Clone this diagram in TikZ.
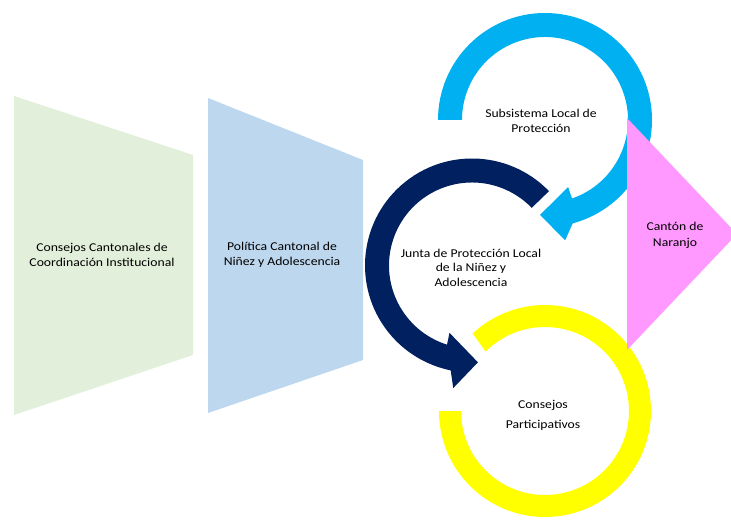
\documentclass[tikz,border=0pt]{standalone}
\usepackage{fontspec}
\setmainfont{Carlito}[FakeStretch=1.14]
\usetikzlibrary{calc}
\definecolor{greenbox}{HTML}{E2EFDA}
\definecolor{bluebox}{HTML}{BDD7EE}
\definecolor{cyanring}{HTML}{00B0F0}
\definecolor{navyring}{HTML}{002060}
\definecolor{yellowring}{HTML}{FFFF00}
\definecolor{pinktri}{HTML}{FF99FF}
\tikzset{
  lbl/.style={align=center, inner sep=0pt, text=black, font=\fontsize{12}{14.5}\selectfont},
}
\begin{document}
\begin{tikzpicture}[x=1pt,y=1pt]
\useasboundingbox (0,0) rectangle (731,520);
\clip (0,0) rectangle (731,520);
% trapezoids
\fill[greenbox] (14,424) -- (193,365) -- (193,165) -- (14,105) -- cycle;
\fill[bluebox] (208,422) -- (363,360) -- (363,160) -- (208,107) -- cycle;
% ring centres
\coordinate (C1) at (545,400);
\coordinate (C2) at (472,254.5);
\coordinate (C3) at (545,109);
% yellow ring
\fill[yellowring] ($(C3)+(-180:106)$) arc[start angle=-180, end angle=133, radius=106pt]
  -- ($(C3)+(135:84)$) arc[start angle=135, end angle=-180, radius=84pt] -- cycle;
% navy ring arrow
\fill[navyring] ($(C2)+(44:107)$) arc[start angle=44, end angle=258.5, radius=107pt]
  -- ($(C2)+(261.3:124)$) -- ($(C2)+(273.5:97)$) -- ($(C2)+(251.5:71)$)
  -- ($(C2)+(252.5:83)$) arc[start angle=252.5, end angle=44, radius=83pt] -- cycle;
% cyan ring arrow
\fill[cyanring] ($(C1)+(180:107)$) arc[start angle=180, end angle=-75, radius=107pt]
  -- ($(C1)+(-80.5:122)$) -- ($(C1)+(-93:95)$) -- ($(C1)+(-71:71)$)
  -- ($(C1)+(-71:83)$) arc[start angle=-71, end angle=180, radius=83pt] -- cycle;
% pink triangle
\fill[pinktri] (627,402) -- (737,286) -- (627,170) -- cycle;
% labels
\node[lbl] (consejoscant) at (102,265) {Consejos Cantonales de\\Coordinación Institucional};
\node[lbl] (politica) at (282,265) {Política Cantonal de\\Niñez y Adolescencia};
\node[lbl, font=\fontsize{12}{15}\selectfont] (subsistema) at (541,399.5) {Subsistema Local de\\Protección};
\node[lbl] (junta) at (471,252.5) {Junta de Protección Local\\de la Niñez y\\Adolescencia};
\node[lbl, font=\fontsize{12}{20}\selectfont] (participativos) at (543,105) {Consejos\\Participativos};
\node[lbl, font=\fontsize{12}{16}\selectfont] (canton) at (675,285) {Cantón de\\Naranjo};
\end{tikzpicture}
\end{document}
